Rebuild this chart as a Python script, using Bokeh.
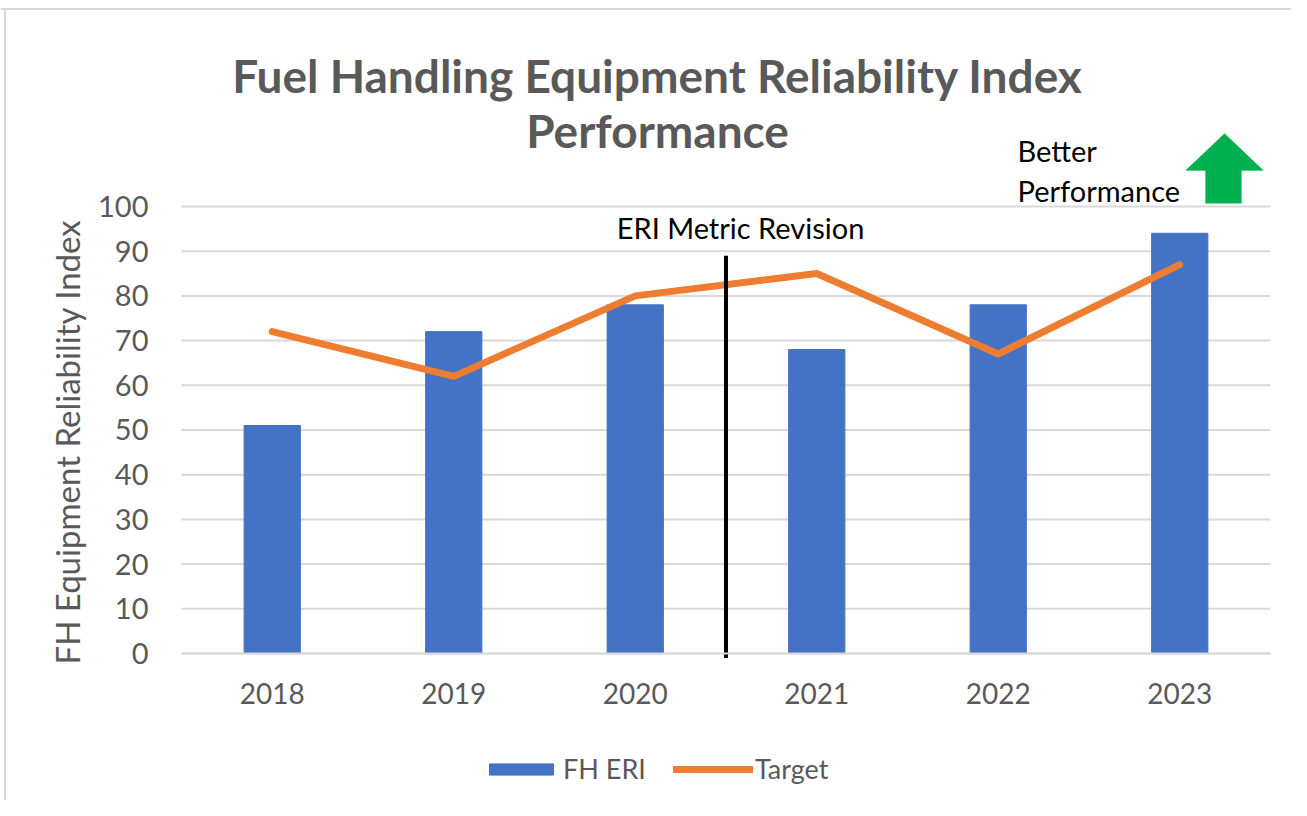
import numpy as np
from bokeh.plotting import figure
from bokeh.models import (Range1d, Label, Legend, LegendItem, Span,
                          PolyAnnotation, FixedTicker)
from bokeh.embed import file_html
from bokeh.resources import INLINE

years = ["2018", "2019", "2020", "2021", "2022", "2023"]
fh_eri = [51, 72, 78, 68, 78, 94]
target = [72, 62, 80, 85, 67, 87]
y_ticks = [0, 10, 20, 30, 40, 50, 60, 70, 80, 90, 100]

FONT = "Lato"
GRAY = "#595959"
GRID = "#d9d9d9"

# category slots: year i occupies [i, i+1] on the x scale
xc = np.arange(len(years)) + 0.5
n = len(years)

p = figure(width=1291, height=800, output_backend="svg", toolbar_location=None,
           x_range=Range1d(-0.9972, 6.1157), y_range=Range1d(-32.89, 146.08),
           min_border_left=0, min_border_right=0, min_border_top=0,
           min_border_bottom=0)
p.outline_line_color = None
p.xgrid.grid_line_color = None
p.ygrid.grid_line_color = None

# chart frame border (top and left edges)
p.add_layout(Span(location=144.18, dimension="width", line_color=GRID, line_width=2))
p.segment(x0=[-0.9725], x1=[-0.9725], y0=[-40], y1=[144.18], line_color=GRID,
          line_width=2)

# horizontal gridlines over the plotting area only
p.segment(x0=[0] * len(y_ticks), x1=[n] * len(y_ticks), y0=y_ticks, y1=y_ticks,
          line_color=GRID, line_width=2)

bars = p.vbar(x=xc, top=fh_eri, width=0.31, fill_color="#4472c4",
              line_color="#4472c4")
line = p.line(x=xc, y=target, line_color="#ed7d31", line_width=7,
              line_cap="round", line_join="round")

# metric revision separator between 2020 and 2021
p.segment(x0=[3], x1=[3], y0=[-1], y1=[89], line_color="black", line_width=4)

p.yaxis.fixed_location = 0
p.yaxis.ticker = FixedTicker(ticks=y_ticks)
p.yaxis.bounds = (-5.4, 100)
p.yaxis.axis_line_color = None
p.yaxis.major_tick_line_color = None
p.yaxis.minor_tick_line_color = None
p.yaxis.major_label_text_font = FONT
p.yaxis.major_label_text_font_size = "29px"
p.yaxis.major_label_text_color = GRAY
p.yaxis.major_label_standoff = 27
p.yaxis.axis_label = "FH Equipment Reliability Index"
p.yaxis.axis_label_text_font = FONT
p.yaxis.axis_label_text_font_size = "33px"
p.yaxis.axis_label_text_font_style = "normal"
p.yaxis.axis_label_text_color = GRAY
p.yaxis.axis_label_standoff = 8

p.xaxis.fixed_location = 0
p.xaxis.bounds = (0, n)
p.xaxis.ticker = FixedTicker(ticks=list(xc))
p.xaxis.major_label_overrides = {float(x): y for x, y in zip(xc, years)}
p.xaxis.axis_line_color = GRID
p.xaxis.axis_line_width = 2
p.xaxis.major_tick_line_color = None
p.xaxis.minor_tick_line_color = None
p.xaxis.major_label_text_font = FONT
p.xaxis.major_label_text_font_size = "28px"
p.xaxis.major_label_text_color = GRAY
p.xaxis.major_label_standoff = 24

# title
for txt, yv in [("Fuel Handling Equipment Reliability Index", 129.3),
                ("Performance", 117.0)]:
    p.add_layout(Label(x=2.623, y=yv, text=txt, text_align="center",
                       text_baseline="middle", text_font=FONT,
                       text_font_size="46px", text_font_style="bold",
                       text_color=GRAY))

p.add_layout(Label(x=3.08, y=95.3, text="ERI Metric Revision", text_align="center",
                   text_baseline="middle", text_font=FONT, text_font_size="29px",
                   text_color="black"))
p.add_layout(Label(x=4.606, y=112.5, text="Better", text_align="left",
                   text_baseline="middle", text_font=FONT, text_font_size="29px",
                   text_color="black"))
p.add_layout(Label(x=4.606, y=103.6, text="Performance", text_align="left",
                   text_baseline="middle", text_font=FONT, text_font_size="29px",
                   text_color="black"))

p.add_layout(PolyAnnotation(
    xs=[5.747, 5.961, 5.840, 5.840, 5.642, 5.642, 5.532],
    ys=[116.3, 108.05, 108.05, 100.7, 100.7, 108.05, 108.05],
    fill_color="#00b050", fill_alpha=1.0, line_color="#00b050", line_width=1))

legend = Legend(items=[LegendItem(label="FH ERI", renderers=[bars]),
                       LegendItem(label="Target", renderers=[line])],
                orientation="horizontal", location=(481, 15),
                glyph_width=80, glyph_height=14, label_standoff=2, spacing=27,
                label_text_font=FONT, label_text_font_size="27px",
                label_text_color=GRAY, border_line_color=None,
                background_fill_alpha=0, padding=0, margin=0)
p.add_layout(legend, "center")

open("out.html", "w").write(file_html(p, INLINE))
